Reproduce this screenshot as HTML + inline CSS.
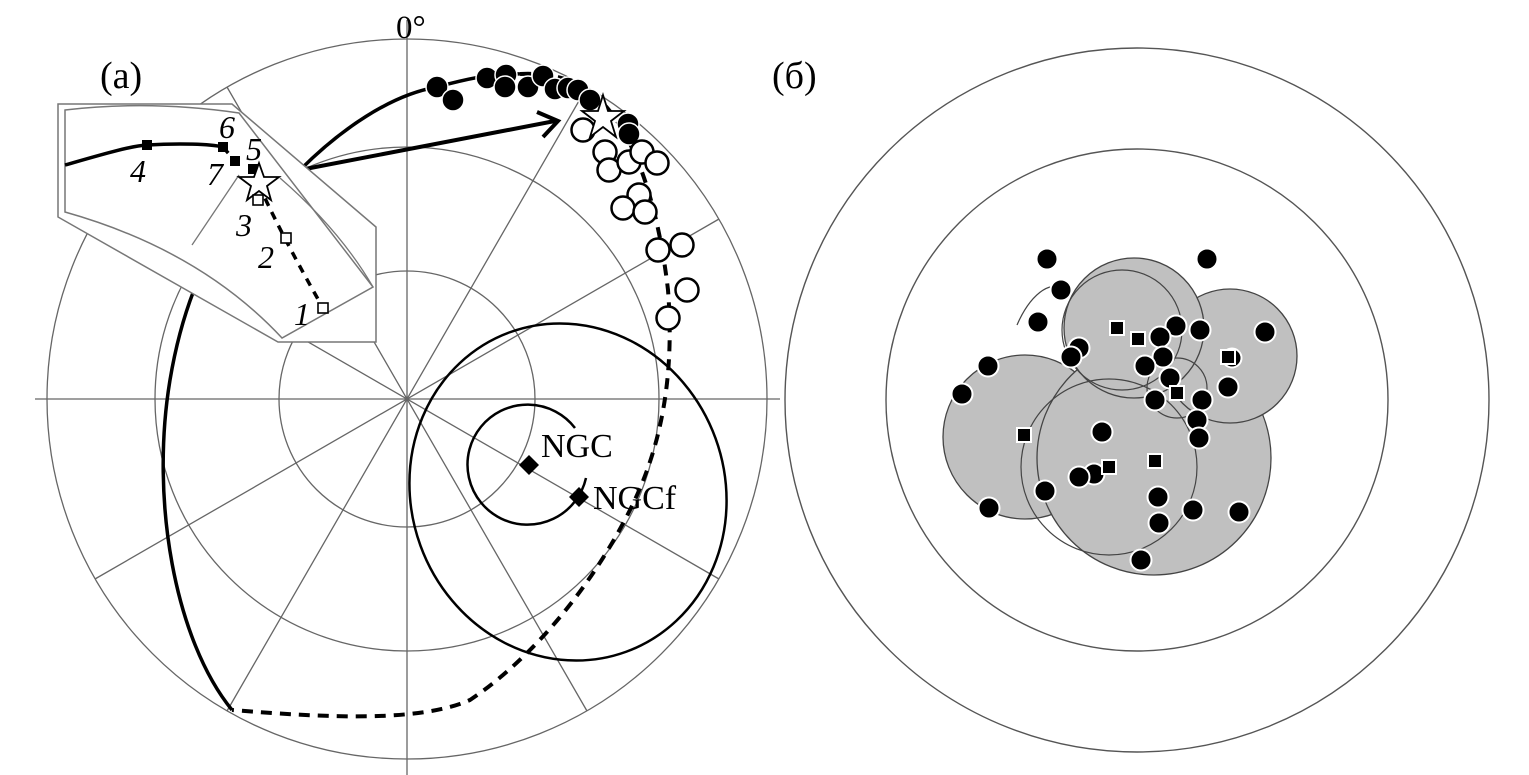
<!DOCTYPE html>
<html><head><meta charset="utf-8"><style>
html,body{margin:0;padding:0;background:#fff;}
svg{display:block;}
text{font-family:"Liberation Serif",serif;}
</style></head><body>
<svg width="1529" height="775" viewBox="0 0 1529 775" xmlns="http://www.w3.org/2000/svg">
<!-- LEFT polar grid -->
<g stroke="#666" stroke-width="1.3" fill="none">
<circle cx="407" cy="399" r="128"/>
<circle cx="407" cy="399" r="252"/>
<circle cx="407" cy="399" r="360"/>
<line x1="35" y1="399" x2="780" y2="399"/>
<line x1="407" y1="20" x2="407" y2="775"/>
<line x1="227" y1="87" x2="587" y2="711"/>
<line x1="95" y1="219" x2="719" y2="579"/>
<line x1="95" y1="579" x2="719" y2="219"/>
<line x1="227" y1="711" x2="587" y2="87"/>
</g>
<text x="396" y="38" font-size="33">0°</text>
<text x="100" y="88" font-size="38">(a)</text>
<text x="772" y="88" font-size="38">(б)</text>

<!-- big spiral curves -->
<path d="M232,710 C175,640 150,500 170,380 C180,320 200,260 240,205" stroke="#000" stroke-width="3.5" fill="none"/>
<path d="M300,170 C340,130 390,95 437,87 C470,78 500,72 520,74" stroke="#000" stroke-width="3.5" fill="none"/>
<path d="M520,74 C560,72 585,85 600,100 C640,140 660,220 668,290 C675,380 660,450 630,510 C590,590 530,660 470,700 C420,722 330,718 232,710" stroke="#000" stroke-width="4" stroke-dasharray="11,8" fill="none"/>
<!-- ellipses -->
<ellipse cx="568" cy="492" rx="157" ry="170" transform="rotate(-20 568 492)" stroke="#000" stroke-width="2.5" fill="none"/>
<path d="M575,428 A60,60 0 1 0 586,478" stroke="#000" stroke-width="2.5" fill="none"/>
<polygon points="529,455 539,465 529,475 519,465" fill="#000"/>
<polygon points="579,487 589,497 579,507 569,497" fill="#000"/>
<text x="541" y="457" font-size="34">NGC</text>
<text x="593" y="509" font-size="34">NGCf</text>

<!-- filled dots top -->
<g fill="#000" stroke="#fff" stroke-width="1.5">
<circle cx="437" cy="87" r="11"/><circle cx="453" cy="100" r="11"/>
<circle cx="487" cy="78" r="11"/><circle cx="506" cy="75" r="11"/><circle cx="505" cy="87" r="11"/>
<circle cx="528" cy="87" r="11"/><circle cx="543" cy="76" r="11"/><circle cx="555" cy="89" r="11"/>
<circle cx="568" cy="88" r="11"/><circle cx="578" cy="90" r="11"/><circle cx="590" cy="100" r="11"/>
<circle cx="628" cy="124" r="11"/><circle cx="629" cy="134" r="11"/>
</g>
<!-- open circles -->
<g fill="#fff" stroke="#000" stroke-width="2.5">
<circle cx="583" cy="130" r="11.5"/><circle cx="605" cy="152" r="11.5"/><circle cx="609" cy="170" r="11.5"/>
<circle cx="629" cy="162" r="11.5"/><circle cx="642" cy="152" r="11.5"/><circle cx="657" cy="163" r="11.5"/>
<circle cx="639" cy="195" r="11.5"/><circle cx="623" cy="208" r="11.5"/><circle cx="645" cy="212" r="11.5"/>
<circle cx="658" cy="250" r="11.5"/><circle cx="682" cy="245" r="11.5"/><circle cx="687" cy="290" r="11.5"/>
<circle cx="668" cy="318" r="11.5"/>
</g>
<!-- big star -->
<polygon points="603,95 608,111 624,111 611,121 616,137 603,127 590,137 595,121 582,111 598,111" fill="#fff" stroke="#000" stroke-width="1.8"/>
<!-- arrow -->
<path d="M300,170 L555,121" stroke="#000" stroke-width="4" fill="none"/>
<path d="M537,112 L558,121 L543,137" stroke="#000" stroke-width="4" fill="none"/>

<!-- inset -->
<polygon points="58,104 232,104 376,227 376,342 278,342 58,217" fill="#fff" stroke="#777" stroke-width="1.5"/>
<path d="M65,110 Q150,100 239,113 L373,287 L282,338 Q200,250 65,212 Z" fill="#fff" stroke="#777" stroke-width="1.5"/>
<line x1="239" y1="175" x2="192" y2="245" stroke="#777" stroke-width="1.3"/>
<path d="M280,178 Q340,230 373,287" stroke="#777" stroke-width="1.3" fill="none"/>
<path d="M65,165 C100,155 130,146 147,145 C180,143 210,144 223,147" stroke="#000" stroke-width="3.5" fill="none"/>
<path d="M223,147 L235,161 M259,185 C270,210 290,250 323,308" stroke="#000" stroke-width="3.5" stroke-dasharray="8,7" fill="none"/>
<g fill="#000">
<rect x="142" y="140" width="10" height="10"/><rect x="218" y="142" width="10" height="10"/>
<rect x="230" y="156" width="10" height="10"/><rect x="248" y="164" width="10" height="10"/>
</g>
<polygon points="259,163 264,177 279,177 267,186 271,200 259,191 247,200 251,186 239,177 254,177" fill="#fff" stroke="#000" stroke-width="1.8"/>
<g fill="#fff" stroke="#000" stroke-width="1.6">
<rect x="253" y="195" width="10" height="10"/><rect x="281" y="233" width="10" height="10"/><rect x="318" y="303" width="10" height="10"/>
</g>
<g font-size="32" font-style="italic">
<text x="130" y="182">4</text><text x="219" y="138">6</text><text x="207" y="185">7</text>
<text x="246" y="160">5</text><text x="236" y="236">3</text><text x="258" y="268">2</text><text x="294" y="325">1</text>
</g>

<!-- RIGHT -->
<g stroke="#555" stroke-width="1.4" fill="none">
<circle cx="1137" cy="400" r="352"/>
<circle cx="1137" cy="400" r="251"/>
</g>
<g fill="#c0c0c0" stroke="#444" stroke-width="1.3">
<circle cx="1025" cy="437" r="82"/>
<circle cx="1154" cy="458" r="117"/>
<circle cx="1230" cy="356" r="67"/>
<circle cx="1134" cy="328" r="70"/>
</g>
<g fill="none" stroke="#444" stroke-width="1.2">
<circle cx="1109" cy="467" r="88"/>
<circle cx="1177" cy="388" r="30"/>
<circle cx="1122" cy="330" r="60"/>
<path d="M1017,325 C1030,295 1050,280 1062,289"/>
</g>
<g fill="#000" stroke="#fff" stroke-width="2">
<circle cx="1047" cy="259" r="10.5"/><circle cx="1207" cy="259" r="10.5"/><circle cx="1061" cy="290" r="10.5"/>
<circle cx="1038" cy="322" r="10.5"/><circle cx="1079" cy="348" r="10.5"/><circle cx="1071" cy="357" r="10.5"/>
<circle cx="988" cy="366" r="10.5"/><circle cx="962" cy="394" r="10.5"/>
<circle cx="1176" cy="326" r="10.5"/><circle cx="1200" cy="330" r="10.5"/><circle cx="1265" cy="332" r="10.5"/>
<circle cx="1160" cy="337" r="10.5"/><circle cx="1163" cy="357" r="10.5"/><circle cx="1145" cy="366" r="10.5"/>
<circle cx="1170" cy="378" r="10.5"/><circle cx="1228" cy="387" r="10.5"/><circle cx="1155" cy="400" r="10.5"/>
<circle cx="1202" cy="400" r="10.5"/><circle cx="1197" cy="420" r="10.5"/><circle cx="1199" cy="438" r="10.5"/>
<circle cx="1102" cy="432" r="10.5"/><circle cx="1045" cy="491" r="10.5"/><circle cx="1094" cy="474" r="10.5"/>
<circle cx="1079" cy="477" r="10.5"/><circle cx="1158" cy="497" r="10.5"/><circle cx="1193" cy="510" r="10.5"/>
<circle cx="1239" cy="512" r="10.5"/><circle cx="1159" cy="523" r="10.5"/><circle cx="989" cy="508" r="10.5"/>
<circle cx="1141" cy="560" r="10.5"/><circle cx="1232" cy="358" r="9.5"/>
</g>
<g fill="#000" stroke="#fff" stroke-width="2">
<rect x="1110" y="321" width="14" height="14"/><rect x="1131" y="332" width="14" height="14"/>
<rect x="1221" y="350" width="14" height="14"/><rect x="1170" y="386" width="14" height="14"/>
<rect x="1017" y="428" width="14" height="14"/><rect x="1102" y="460" width="14" height="14"/>
<rect x="1148" y="454" width="14" height="14"/>
</g>
</svg>
</body></html>
